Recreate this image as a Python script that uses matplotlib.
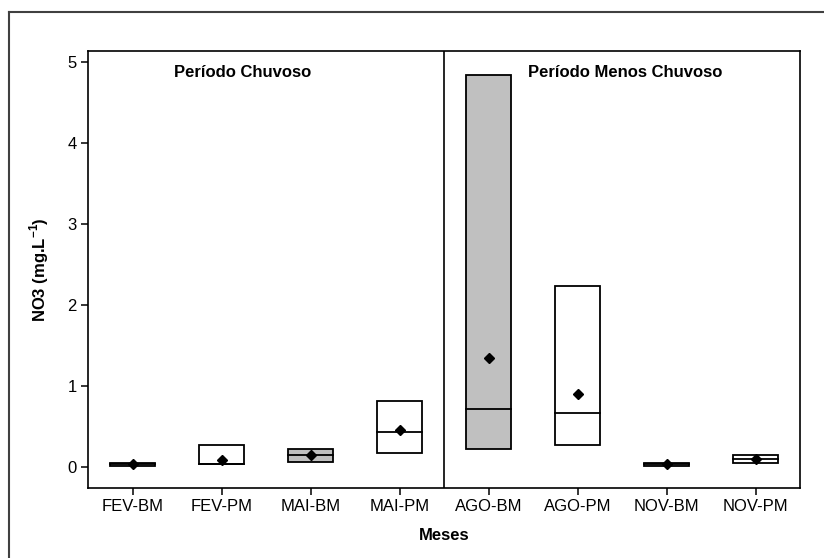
import matplotlib.pyplot as plt
from matplotlib.lines import Line2D

plt.rcParams['font.family'] = ['Liberation Sans', 'DejaVu Sans']
plt.rcParams['mathtext.fontset'] = 'custom'
plt.rcParams['mathtext.rm'] = 'Liberation Sans'
plt.rcParams['mathtext.bf'] = 'Liberation Sans:bold'

meses = ['FEV-BM', 'FEV-PM', 'MAI-BM', 'MAI-PM', 'AGO-BM', 'AGO-PM', 'NOV-BM', 'NOV-PM']
caixa_min = [0.02, 0.04, 0.07, 0.18, 0.23, 0.27, 0.02, 0.05]
caixa_max = [0.05, 0.27, 0.22, 0.82, 4.84, 2.24, 0.05, 0.15]
mediana = [0.04, 0.04, 0.15, 0.43, 0.72, 0.67, 0.04, 0.10]
media = [0.04, 0.09, 0.15, 0.46, 1.35, 0.91, 0.04, 0.10]
cores = ['#c0c0c0', 'white', '#c0c0c0', 'white', '#c0c0c0', 'white', '#c0c0c0', 'white']

fig = plt.figure(figsize=(8.24, 5.58), dpi=100)
ax = fig.add_axes([0.1068, 0.1249, 0.8641, 0.7837])

x = list(range(1, len(meses) + 1))
alturas = [b - a for a, b in zip(caixa_min, caixa_max)]
ax.bar(x, alturas, bottom=caixa_min, width=0.5, color=cores,
       edgecolor='black', linewidth=1.3, zorder=2)
for xi, m in zip(x, mediana):
    ax.plot([xi - 0.25, xi + 0.25], [m, m], color='black', lw=1.3, zorder=3)
ax.plot(x, media, 'D', color='black', markersize=5.5, zorder=4)

# divisao entre periodos
ax.axvline(4.5, color='black', lw=1.2)
ax.text(2.24, 4.87, 'Período Chuvoso', ha='center', va='center',
        fontsize=12, fontweight='bold')
ax.text(6.54, 4.87, 'Período Menos Chuvoso', ha='center', va='center',
        fontsize=12, fontweight='bold')

ax.set_xlim(0.5, 8.5)
ax.set_ylim(-0.26, 5.14)
ax.set_xticks(x)
ax.set_xticklabels(meses)
ax.set_yticks([0, 1, 2, 3, 4, 5])
ax.tick_params(labelsize=12, length=5, width=1.1, color='black', pad=3)
for s in ax.spines.values():
    s.set_linewidth(1.2)
ax.set_xlabel('Meses', fontsize=12, fontweight='bold', labelpad=10)
ax.set_ylabel(r'NO3 (mg.L$^{\mathbf{-1}}$)', fontsize=12, fontweight='bold', labelpad=12)

# moldura externa
fig.add_artist(Line2D([9 / 824, 9 / 824], [0, 1 - 12 / 558], color='#404040', lw=1.5))
fig.add_artist(Line2D([9 / 824, 1], [1 - 12 / 558, 1 - 12 / 558], color='#404040', lw=1.5))

fig.savefig('out.png', dpi=100)
